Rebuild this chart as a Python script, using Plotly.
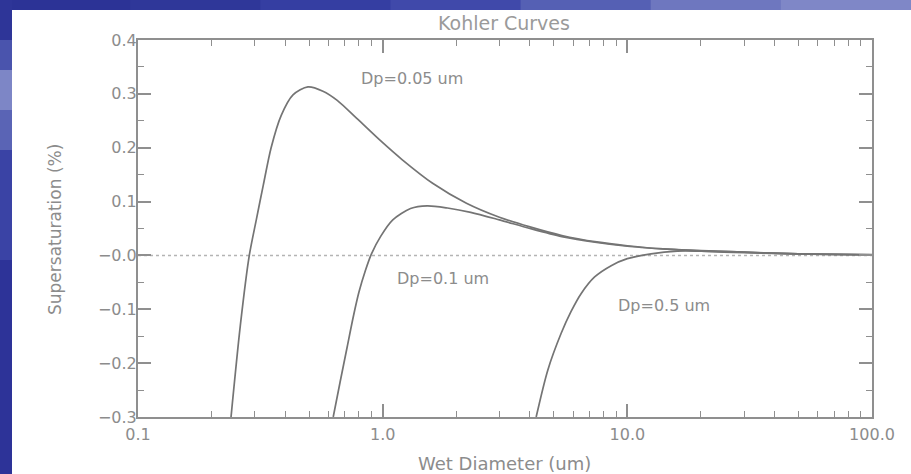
import math
import plotly.graph_objects as go

# ---- data ----
d_005 = [0.240, 0.262, 0.285, 0.305, 0.325, 0.350, 0.385, 0.430, 0.495, 0.570, 0.652, 0.790, 0.980,
         1.20, 1.60, 2.20, 3.0, 4.0, 5.4, 7.5, 10, 14, 20, 30, 50, 100]
s_005 = [-0.300, -0.130, 0.000, 0.068, 0.130, 0.200, 0.260, 0.298, 0.313, 0.305, 0.288, 0.253, 0.213,
         0.178, 0.134, 0.097, 0.071, 0.053, 0.037, 0.025, 0.018, 0.012, 0.009, 0.006, 0.003, 0.0015]

d_01 = [0.628, 0.67, 0.716, 0.76, 0.80, 0.85, 0.90, 0.98, 1.10, 1.30, 1.52, 1.84, 2.29, 3.0, 4.0,
        5.4, 7.5, 10, 14, 20, 30, 50, 100]
s_01 = [-0.300, -0.235, -0.170, -0.112, -0.068, -0.028, 0.003, 0.035, 0.066, 0.087, 0.092, 0.088,
        0.080, 0.066, 0.050, 0.035, 0.024, 0.017, 0.012, 0.008, 0.005, 0.003, 0.0013]

d_05 = [4.24, 4.73, 5.36, 5.89, 6.47, 7.35, 8.59, 10.0, 12.5, 16.0, 20, 26, 35, 50, 70, 100]
s_05 = [-0.300, -0.213, -0.145, -0.104, -0.071, -0.040, -0.019, -0.006, 0.003, 0.008, 0.008,
        0.007, 0.005, 0.003, 0.002, 0.0012]

zero_x = [0.1, 100]
zero_y = [0, 0]

x_tickvals = [0.1, 1, 10, 100]
x_ticktext = ["0.1", "1.0", "10.0", "100.0"]
x_minor = [m * 10 ** e for e in (-1, 0, 1) for m in range(2, 10)]

y_tickvals = [-0.3, -0.2, -0.1, 0.0, 0.1, 0.2, 0.3, 0.4]
y_ticktext = ["\u22120.3", "\u22120.2", "\u22120.1", "\u22120.0", "0.1", "0.2", "0.3", "0.4"]
y_minor = [-0.25, -0.15, -0.05, 0.05, 0.15, 0.25, 0.35]

labels = ["Dp=0.05 um", "Dp=0.1 um", "Dp=0.5 um"]
label_x = [1.32, 1.76, 14.1]
label_y = [0.328, -0.043, -0.093]

chart_title = "Kohler Curves"
x_title = "Wet Diameter (um)"
y_title = "Supersaturation (%)"

# ---- figure ----
W, H = 911, 474
L, R, T, B = 138, 39, 40, 57
pw, ph = W - L - R, H - T - B


def px2paper_x(p):
    return (p - L) / pw


def px2paper_y(p):
    return (H - B - p) / ph


line_col = "#747474"
txt_col = "#8c8c8c"
ax_col = "#8f8f8f"
font_fam = "DejaVu Sans"

fig = go.Figure()
fig.add_trace(go.Scatter(x=zero_x, y=zero_y, mode="lines",
                         line=dict(color="#b4b4b4", width=1.5, dash="dot"), hoverinfo="skip"))
for dx, sy in ((d_005, s_005), (d_01, s_01), (d_05, s_05)):
    fig.add_trace(go.Scatter(x=dx, y=sy, mode="lines",
                             line=dict(color=line_col, width=1.7, shape="spline", smoothing=0.8)))

for t, lx, ly in zip(labels, label_x, label_y):
    fig.add_annotation(x=math.log10(lx), y=ly, xref="x", yref="y", text=t, showarrow=False,
                       xanchor="center", yanchor="middle",
                       font=dict(family=font_fam, size=16, color=txt_col))

# axis titles and chart title as positioned text
fig.add_annotation(x=px2paper_x(504), y=px2paper_y(463), xref="paper", yref="paper",
                   text=x_title, showarrow=False, xanchor="center", yanchor="middle",
                   font=dict(family=font_fam, size=18, color=txt_col))
fig.add_annotation(x=px2paper_x(55), y=px2paper_y(230), xref="paper", yref="paper",
                   text=y_title, showarrow=False, xanchor="center", yanchor="middle", textangle=-90,
                   font=dict(family=font_fam, size=17, color=txt_col))
fig.add_annotation(x=px2paper_x(504), y=px2paper_y(23), xref="paper", yref="paper",
                   text=chart_title, showarrow=False, xanchor="center", yanchor="middle",
                   font=dict(family=font_fam, size=19, color="#9a9a9a"))

# blue slide frame (left and top strips), stepped to mimic its gradient
top_cols = ["#2c3396", "#2f3799", "#353ea2", "#4049aa", "#5560b4", "#6e77bf", "#7f87c7"]
n = len(top_cols)
for i, c in enumerate(top_cols):
    fig.add_shape(type="rect", xref="paper", yref="paper",
                  x0=px2paper_x(W * i / n), x1=px2paper_x(W * (i + 1) / n + 1),
                  y0=px2paper_y(10), y1=px2paper_y(0),
                  fillcolor=c, line=dict(width=0), layer="above")
left_segs = [(0, 40, "#2e3598"), (40, 70, "#4a54ad"), (70, 110, "#7d86c6"), (110, 150, "#5a64b5"),
             (150, 260, "#3a43a5"), (260, 474, "#2d3398")]
for y0p, y1p, c in left_segs:
    fig.add_shape(type="rect", xref="paper", yref="paper",
                  x0=px2paper_x(0), x1=px2paper_x(12), y0=px2paper_y(y1p + 1), y1=px2paper_y(y0p),
                  fillcolor=c, line=dict(width=0), layer="above")

axis_common = dict(showline=True, linecolor=ax_col, linewidth=2, mirror="ticks",
                   ticks="inside", ticklen=13, tickwidth=1.5, tickcolor=ax_col,
                   showgrid=False, zeroline=False, automargin=False,
                   tickfont=dict(family=font_fam, size=16, color=txt_col))

fig.update_xaxes(type="log", range=[-1, 2], tickvals=x_tickvals, ticktext=x_ticktext,
                 minor=dict(tickvals=x_minor, ticks="inside", ticklen=6, tickcolor=ax_col,
                            tickwidth=1.2),
                 ticklabelstandoff=2,
                 **axis_common)
fig.update_yaxes(range=[-0.3, 0.4], tickvals=y_tickvals, ticktext=y_ticktext,
                 minor=dict(tickvals=y_minor, ticks="inside", ticklen=6, tickcolor=ax_col,
                            tickwidth=1.2),
                 ticklabelstandoff=-4,
                 **axis_common)

fig.update_layout(
    width=W, height=H,
    margin=dict(l=L, r=R, t=T, b=B, autoexpand=False),
    paper_bgcolor="white", plot_bgcolor="white",
    showlegend=False,
)

fig.write_html("out.html", config={"displayModeBar": False},
               post_script="document.body.style.margin='0';")
